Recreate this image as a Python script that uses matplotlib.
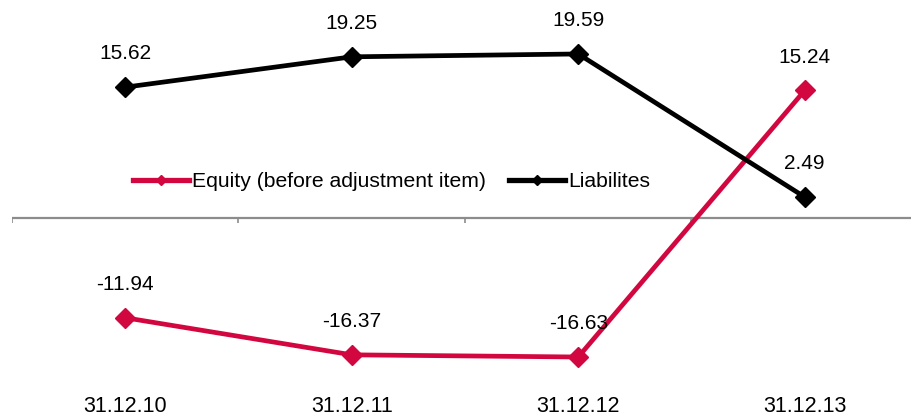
import matplotlib.pyplot as plt
from matplotlib.transforms import blended_transform_factory

dates = ['31.12.10', '31.12.11', '31.12.12', '31.12.13']
equity = [-11.94, -16.37, -16.63, 15.24]
liabilities = [15.62, 19.25, 19.59, 2.49]

pink = '#D2073F'

plt.rcParams['font.family'] = ['Liberation Sans', 'DejaVu Sans']

fig = plt.figure(figsize=(9.12, 4.18), dpi=100)
W, H = 912, 418
ax = fig.add_axes([12 / W, 1 - 385.2 / H, 906 / W, 376.5 / H])
ax.set_xlim(-0.5, 3.5)
ax.set_ylim(-20, 25)
for s in ax.spines.values():
    s.set_visible(False)
ax.set_yticks([])
ax.set_xticks([])

# zero line with category boundary ticks
ax.axhline(0, color='#8c8c8c', lw=1.6, zorder=1)
ax.vlines([-0.5, 0.5, 1.5, 2.5, 3.5], -0.6, 0, color='#8c8c8c', lw=1.2, zorder=1)

x = range(len(dates))
ax.plot(x, equity, color=pink, lw=3.4, marker='D', ms=10.5, zorder=3,
        label='Equity (before adjustment item)')
ax.plot(x, liabilities, color='black', lw=3.4, marker='D', ms=10.5, zorder=3,
        label='Liabilites')

for xi, v in zip(x, equity):
    ax.annotate(f'{v:.2f}', (xi, v), xytext=(0, 24), textcoords='offset points',
                ha='center', va='center', fontsize=15)
for xi, v in zip(x, liabilities):
    ax.annotate(f'{v:.2f}', (xi, v), xytext=(0, 24), textcoords='offset points',
                ha='center', va='center', fontsize=15)

# category labels sit at the bottom edge
tr = blended_transform_factory(ax.transData, fig.transFigure)
for xi, d in zip(x, dates):
    ax.text(xi, 1 - 417 / H, d, transform=tr, ha='center', va='bottom',
            fontsize=15.5)

h, l = ax.get_legend_handles_labels()
leg = fig.legend(h, l, loc='center left', bbox_to_anchor=(133 / W, 1 - 182 / H),
                 ncol=2, frameon=False, fontsize=15.2, borderpad=0, borderaxespad=0,
                 handlelength=2.65, handletextpad=0.15, columnspacing=1.1,
                 markerscale=0.45)
for line in leg.get_lines():
    line.set_linewidth(3.8)

fig.savefig('out.png', dpi=100)
